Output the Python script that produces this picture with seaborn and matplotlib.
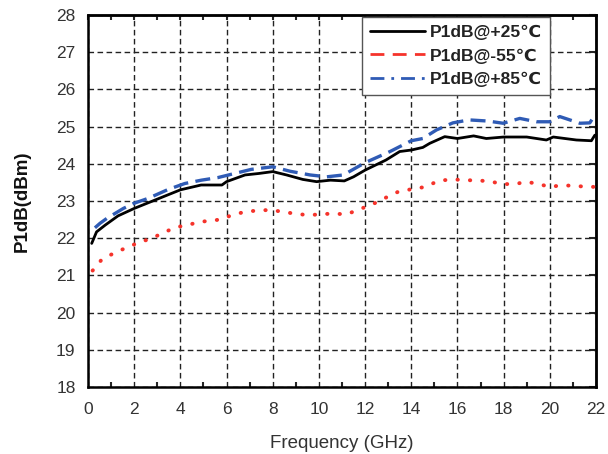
import matplotlib
matplotlib.use("Agg")
import matplotlib.pyplot as plt
from matplotlib.lines import Line2D
from matplotlib.ticker import MultipleLocator
import seaborn as sns
import pandas as pd

freq_25 = [0.16, 0.37, 0.74, 1.3, 2.0, 3.0, 4.0, 4.9, 5.8, 6.0, 6.8, 7.4, 8.0, 8.6, 9.3, 9.9,
           10.5, 11.1, 11.5, 12.0, 12.9, 13.5, 14.0, 14.5, 14.8, 15.45, 16.0, 16.7, 17.25, 18.0,
           19.0, 19.85, 20.15, 21.15, 21.8, 21.95]
p1db_25 = [21.86, 22.17, 22.35, 22.6, 22.8, 23.05, 23.3, 23.43, 23.43, 23.52, 23.70, 23.74, 23.79,
           23.70, 23.58, 23.52, 23.56, 23.54, 23.65, 23.83, 24.10, 24.33, 24.37, 24.44, 24.55, 24.73,
           24.68, 24.75, 24.68, 24.72, 24.72, 24.64, 24.72, 24.64, 24.62, 24.77]

freq_m55 = [0.2, 0.6, 1.1, 1.68, 2.19, 2.77, 3.28, 3.78, 4.28, 4.86, 5.58, 6.16, 6.67, 7.24, 7.88,
            8.45, 9.03, 9.6, 10.18, 10.68, 11.19, 11.77, 12.35, 12.93, 13.44, 13.95, 14.52, 15.24,
            15.8, 16.39, 16.97, 17.47, 17.98, 18.63, 18.92, 19.42, 20.0, 20.5, 21.08, 21.58, 21.95]
p1db_m55 = [21.13, 21.43, 21.59, 21.75, 21.88, 22.0, 22.15, 22.29, 22.35, 22.44, 22.49, 22.6, 22.69,
            22.74, 22.76, 22.71, 22.65, 22.62, 22.65, 22.66, 22.64, 22.78, 22.92, 23.1, 23.25, 23.31,
            23.37, 23.55, 23.58, 23.56, 23.55, 23.52, 23.45, 23.47, 23.52, 23.47, 23.38, 23.42,
            23.41, 23.38, 23.38]

freq_85 = [0.3, 0.52, 0.81, 1.53, 2.0, 2.6, 3.47, 4.19, 4.91, 5.63, 6.35, 7.07, 8.0, 8.75, 9.62,
           10.34, 11.06, 12.0, 13.08, 14.0, 14.5, 15.09, 15.8, 16.5, 17.3, 17.98, 18.7, 19.42, 20.0,
           20.43, 21.3, 21.73, 21.95]
p1db_85 = [22.28, 22.4, 22.53, 22.8, 22.94, 23.07, 23.31, 23.47, 23.56, 23.63, 23.74, 23.85, 23.92,
           23.8, 23.7, 23.65, 23.7, 24.03, 24.33, 24.62, 24.68, 24.91, 25.1, 25.18, 25.15, 25.09,
           25.22, 25.13, 25.13, 25.27, 25.09, 25.1, 25.31]

labels = ["P1dB@+25\u2103", "P1dB@-55\u2103", "P1dB@+85\u2103"]
x_ticks = [0, 2, 4, 6, 8, 10, 12, 14, 16, 18, 20, 22]
y_ticks = [18, 19, 20, 21, 22, 23, 24, 25, 26, 27, 28]

sns.set_style("white")
plt.rcParams["font.family"] = ["Liberation Sans", "DejaVu Sans"]

fig = plt.figure(figsize=(6.08, 4.54), dpi=100)
ax = fig.add_axes([88 / 608, 1 - 387 / 454, (596 - 88) / 608, (387 - 15) / 454])

df25 = pd.DataFrame({"f": freq_25, "p": p1db_25})
dfm55 = pd.DataFrame({"f": freq_m55, "p": p1db_m55})
df85 = pd.DataFrame({"f": freq_85, "p": p1db_85})

sns.lineplot(data=dfm55, x="f", y="p", ax=ax, color="#f5332b", lw=2.8, sort=False,
             linestyle=(0, (0.1, 3.1)), dash_capstyle="round", zorder=3)
sns.lineplot(data=df85, x="f", y="p", ax=ax, color="#2f5bb5", lw=2.4, sort=False,
             linestyle=(0, (4.5, 2.2)), zorder=4)
sns.lineplot(data=df25, x="f", y="p", ax=ax, color="black", lw=2.0, sort=False, zorder=5)

ax.set_xlim(0, 22)
ax.set_ylim(18, 28)
ax.set_xticks(x_ticks)
ax.set_yticks(y_ticks)
ax.xaxis.set_minor_locator(MultipleLocator(1))
ax.grid(True, which="major", color="#222222", linestyle=(0, (4, 2.5)), lw=1.0)
for s in ax.spines.values():
    s.set_color("black")
    s.set_linewidth(1.8)
ax.tick_params(axis="both", which="major", direction="out", length=6, width=1.5,
               labelsize=12.5, labelcolor="#333333", colors="black")
ax.tick_params(axis="y", which="major", pad=3)
ax.tick_params(axis="x", which="major", pad=5)
ax.tick_params(axis="x", which="minor", direction="in", length=3.5, width=1.5, bottom=True, top=False)

sec_x = ax.secondary_xaxis("top")
sec_x.set_xticks(list(range(0, 23)))
sec_x.tick_params(direction="in", length=3.5, width=1.5, labeltop=False)
sec_x.spines["top"].set_linewidth(1.8)
sec_y = ax.secondary_yaxis("right")
sec_y.set_yticks(y_ticks)
sec_y.tick_params(direction="in", length=5, width=1.5, labelright=False)
sec_y.spines["right"].set_linewidth(1.8)

ax.set_xlabel("Frequency (GHz)", fontsize=13.5, labelpad=13, color="#333333")
ax.set_ylabel("P1dB(dBm)", fontsize=13.5, fontweight="bold", labelpad=18, color="#111111")

handles = [
    Line2D([], [], color="black", lw=2.0),
    Line2D([], [], color="#f5332b", lw=2.0, linestyle=(0, (5, 3))),
    Line2D([], [], color="#2f5bb5", lw=2.0, linestyle=(0, (5, 2.5, 1, 2.5))),
]
leg = ax.legend(handles, labels, loc="upper left",
                bbox_to_anchor=((362 - 88) / 508, (387 - 17) / 372),
                bbox_transform=ax.transAxes, borderaxespad=0, frameon=True, fancybox=False,
                prop={"weight": "bold", "size": 12.5}, handlelength=3.2, borderpad=0.45,
                labelspacing=0.47, handletextpad=0.25)
leg.get_frame().set_edgecolor("#555555")
leg.get_frame().set_linewidth(1.0)
leg.get_frame().set_alpha(1)
for t in leg.get_texts():
    t.set_color("#222222")

fig.savefig("out.png", dpi=100)
